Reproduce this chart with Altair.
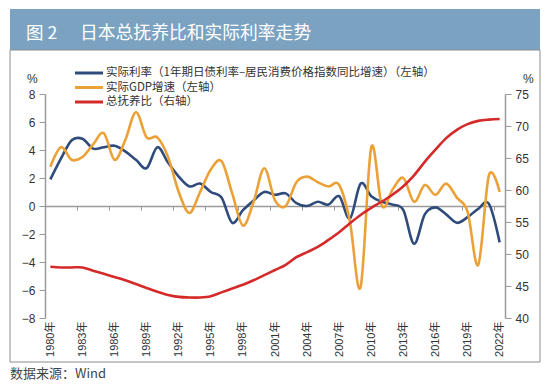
import altair as alt
import pandas as pd

# ---------------- data ----------------
years = list(range(1980, 2023))
real_rate = [1.9, 3.4, 4.7, 4.8, 4.1, 4.2, 4.3, 3.9, 3.3, 2.7,
             4.2, 3.1, 2.1, 1.4, 1.6, 1.0, 0.6, -1.2, -0.3, 0.4,
             1.0, 0.8, 0.9, 0.2, 0.0, 0.3, 0.1, 0.7, -0.9, 1.6,
             0.7, 0.3, 0.1, -0.3, -2.7, -0.6, -0.1, -0.6, -1.2, -0.8,
             -0.2, 0.15, -2.6]
gdp_growth = [2.8, 4.2, 3.3, 3.5, 4.4, 5.2, 3.3, 4.7, 6.7, 4.9,
              4.9, 3.5, 1.0, -0.5, 1.0, 2.6, 3.2, 0.9, -1.4, 0.3,
              2.7, 0.4, 0.0, 1.7, 2.1, 1.7, 1.4, 1.5, -1.1, -5.8,
              4.2, 0.0, 1.2, 2.0, 0.3, 1.5, 0.8, 1.6, 0.6, -0.4,
              -4.2, 2.2, 1.0]
dependency_ratio = [48.0, 47.9, 47.9, 47.9, 47.4, 46.9, 46.4, 45.9, 45.3, 44.7,
                    44.1, 43.6, 43.3, 43.2, 43.2, 43.4, 44.0, 44.6, 45.2, 45.9,
                    46.7, 47.5, 48.3, 49.5, 50.3, 51.1, 52.2, 53.4, 54.8, 56.1,
                    57.2, 58.2, 59.3, 60.6, 62.3, 64.4, 66.3, 68.1, 69.4, 70.3,
                    70.8, 71.0, 71.1]

series_names = ["实际利率（1年期日债利率–居民消费价格指数同比增速）（左轴）",
                "实际GDP增速（左轴）",
                "总抚养比（右轴）"]
series_colors = ["#2f4b7c", "#eba137", "#d42a2a"]

label_years = list(range(1980, 2023, 3))
tick_positions = [y - 0.5 for y in range(1980, 2023, 3)]
left_ticks = list(range(-8, 9, 2))
right_ticks = list(range(40, 76, 5))

title_num = "图 2"
title_text = "日本总抚养比和实际利率走势"
source_text = "数据来源：Wind"

# ---------------- layout ----------------
W, H = 460, 224
FONT = "Liberation Sans, Noto Sans CJK SC"
CJK = "Noto Sans CJK SC"
AX = "#9a9a9a"

df = pd.DataFrame({"year": years, "rate": real_rate, "gdp": gdp_growth,
                   "dep": dependency_ratio})

xscale = alt.Scale(domain=[1979.5, 2022.5], nice=False, zero=False)

x_main = alt.X("year:Q", scale=xscale,
               axis=alt.Axis(values=label_years, labelExpr="datum.value + '年'",
                             labelAngle=270, ticks=False, domain=False, grid=False,
                             labelOverlap=False, labelFlush=False, labelFontSize=11,
                             labelColor="#333", labelPadding=3, title=None,
                             orient="bottom", labelFont=FONT))
x_ticks = alt.X("year:Q", scale=xscale,
                axis=alt.Axis(values=tick_positions, labels=False, ticks=True,
                              tickSize=4, tickColor=AX, domainColor=AX,
                              domainWidth=1.5, offset=-112, grid=False,
                              title=None, orient="bottom"))

y_left = alt.Y("v:Q", scale=alt.Scale(domain=[-8, 8], nice=False),
               axis=alt.Axis(values=left_ticks, grid=False, title=None, tickSize=6,
                             tickColor=AX, domainColor=AX, domainWidth=1.5,
                             labelFontSize=12, labelColor="#333", labelPadding=4,
                             orient="left", labelFont=FONT))
y_right = alt.Y("dep:Q", scale=alt.Scale(domain=[40, 75], nice=False, zero=False),
                axis=alt.Axis(values=right_ticks, grid=False, title=None, tickSize=6,
                              tickColor=AX, domainColor=AX, domainWidth=1.5,
                              labelFontSize=12, labelColor="#333", labelPadding=4,
                              orient="right", labelFont=FONT))

base = alt.Chart(df)
blue = base.mark_line(interpolate="cardinal", strokeWidth=2.6,
                      color=series_colors[0]).transform_calculate(
    v="datum.rate").encode(x=x_main, y=y_left)
orange = base.mark_line(interpolate="cardinal", strokeWidth=2.6,
                        color=series_colors[1]).transform_calculate(
    v="datum.gdp").encode(x=x_main, y=y_left)
left = alt.layer(blue, orange)

red = base.mark_line(interpolate="cardinal", strokeWidth=2.6,
                     color=series_colors[2]).encode(x=x_ticks, y=y_right)

def txt(s, x, y, size, color="#333", font=FONT, align="left", weight="normal"):
    return alt.Chart(pd.DataFrame({"t": [s]})).mark_text(
        align=align, baseline="middle", fontSize=size, color=color, font=font,
        fontWeight=weight).encode(text="t:N", x=alt.value(x), y=alt.value(y))

def one(d):
    return alt.Chart(pd.DataFrame({"k": [d]}))

band = one(0).mark_rect(color="#7ba3c1").encode(
    x=alt.value(-35), x2=alt.value(495), y=alt.value(-85), y2=alt.value(-44))
frame = one(0).mark_rect(fill="white", fillOpacity=0, stroke="#8c8c8c",
                         strokeWidth=1).encode(
    x=alt.value(-35), x2=alt.value(495), y=alt.value(-44), y2=alt.value(268))

legend_layers = []
for i, (name, col) in enumerate(zip(series_names, series_colors)):
    ry = -21 + i * 14.5
    legend_layers.append(one(i).mark_rule(color=col, strokeWidth=3).encode(
        x=alt.value(30), x2=alt.value(58), y=alt.value(ry)))
    legend_layers.append(txt(name, 61, ry, 11.5, font=CJK))

decor = [band, frame,
         txt(title_num, -19, -60, 17.5, color="white", font=CJK),
         txt(title_text, 35, -60, 17.8, color="white", font=CJK),
         txt("%", -18, -15, 12), txt("%", 478, -15, 12),
         txt(source_text, -35, 280, 13, color="#444", font=CJK)] + legend_layers

chart = alt.layer(*decor, left, red).resolve_scale(
    y="independent").resolve_axis(x="independent").properties(
    width=W, height=H, autosize=alt.AutoSizeParams(type="none"),
    padding={"left": 37, "top": 86, "right": 37, "bottom": 65},
    background="white"
).configure_view(strokeWidth=0)

chart.save("out.html", embed_options={"renderer": "svg", "actions": False})
